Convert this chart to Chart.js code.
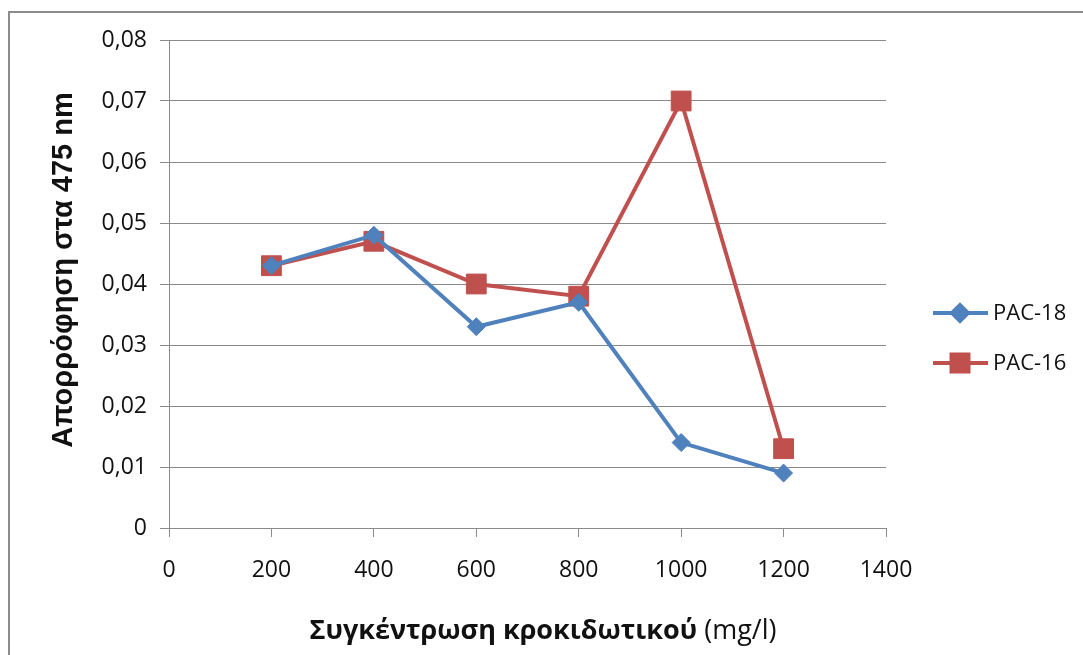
<!DOCTYPE html>
<html>
<head>
<meta charset="utf-8">
<script src="https://cdn.jsdelivr.net/npm/chart.js@4/dist/chart.umd.min.js"></script>
<style>
  html, body { margin: 0; padding: 0; background: #fff; }
  canvas { display: block; }
</style>
</head>
<body>
<canvas id="c" width="1083" height="655"></canvas>
<script>
// Flocculant dose (mg/l) and absorbance at 475 nm
const doses = [200, 400, 600, 800, 1000, 1200];
const pac18 = [0.043, 0.048, 0.033, 0.037, 0.014, 0.009];
const pac16 = [0.043, 0.047, 0.040, 0.038, 0.070, 0.013];
const seriesNames = ['PAC-18', 'PAC-16'];
const xTicks = [0, 200, 400, 600, 800, 1000, 1200, 1400];
const yTicks = [0, 0.01, 0.02, 0.03, 0.04, 0.05, 0.06, 0.07, 0.08];
const xTitleBold = 'Συγκέντρωση κροκιδωτικού';
const xTitleUnit = ' (mg/l)';
const yTitle = 'Απορρόφηση στα 475 nm';

const BLUE = '#4F81BD';
const RED = '#C0504D';
const GRID = '#8a8a8a';
const TEXT = '#111';
const TICK_FONT = { family: '"Open Sans", sans-serif', size: 23 };

const toPoints = vals => doses.map((d, i) => ({ x: d, y: vals[i] }));

const styles = [
  { color: BLUE, pointStyle: 'rectRot', radius: 9, legendRadius: 8 },
  { color: RED, pointStyle: 'rect', radius: 14, legendRadius: 12 }
];

// Frame, titles and the right-hand legend
const decorations = {
  id: 'decorations',
  beforeDraw(chart) {
    const ctx = chart.ctx;
    ctx.save();
    ctx.fillStyle = '#fff';
    ctx.fillRect(0, 0, chart.width, chart.height);
    ctx.strokeStyle = '#8c8c8c';
    ctx.lineWidth = 2;
    ctx.strokeRect(9, 12, chart.width + 20, chart.height + 20);
    ctx.restore();
  },
  afterDraw(chart) {
    const ctx = chart.ctx;
    ctx.save();
    ctx.fillStyle = TEXT;

    // x-axis title: bold name plus regular unit
    const boldFont = 'bold 27px "Open Sans", sans-serif';
    const regFont = '27px "Open Sans", sans-serif';
    ctx.font = boldFont;
    const wb = ctx.measureText(xTitleBold).width;
    ctx.font = regFont;
    const wu = ctx.measureText(xTitleUnit).width;
    const cx = 543;
    let x0 = cx - (wb + wu) / 2;
    ctx.textBaseline = 'alphabetic';
    ctx.textAlign = 'left';
    ctx.font = boldFont;
    ctx.fillText(xTitleBold, x0, 639);
    ctx.font = regFont;
    ctx.fillText(xTitleUnit, x0 + wb, 639);

    // y-axis title, rotated
    ctx.save();
    ctx.translate(64, 270);
    ctx.rotate(-Math.PI / 2);
    ctx.font = 'bold 29px "Liberation Sans", Arial, sans-serif';
    ctx.textAlign = 'center';
    ctx.textBaseline = 'middle';
    ctx.fillText(yTitle, 0, 0);
    ctx.restore();

    // legend
    const rows = [313, 363];
    chart.data.datasets.forEach((ds, i) => {
      const y = rows[i];
      const st = styles[i];
      ctx.strokeStyle = st.color;
      ctx.lineWidth = 4;
      ctx.beginPath();
      ctx.moveTo(933, y);
      ctx.lineTo(988, y);
      ctx.stroke();
      ctx.fillStyle = st.color;
      ctx.strokeStyle = st.color;
      Chart.helpers.drawPoint(ctx, {
        pointStyle: st.pointStyle, radius: st.legendRadius, rotation: 0, borderWidth: 1
      }, 960, y);
      ctx.fillStyle = TEXT;
      ctx.font = '22px "Open Sans", sans-serif';
      ctx.textAlign = 'left';
      ctx.textBaseline = 'middle';
      ctx.fillText(ds.label, 993, y + 1);
    });
    ctx.restore();
  }
};

new Chart(document.getElementById('c'), {
  type: 'scatter',
  data: {
    datasets: [pac18, pac16].map((vals, i) => ({
      label: seriesNames[i],
      data: toPoints(vals),
      showLine: true,
      borderColor: styles[i].color,
      backgroundColor: styles[i].color,
      borderWidth: 4,
      pointStyle: styles[i].pointStyle,
      pointRadius: styles[i].radius,
      pointHoverRadius: styles[i].radius,
      pointBorderWidth: 1,
      pointBorderColor: styles[i].color,
      pointBackgroundColor: styles[i].color,
      tension: 0
    }))
  },
  options: {
    responsive: false,
    animation: false,
    events: [],
    layout: { padding: { top: 40, right: 197, left: 0, bottom: 0 } },
    plugins: { legend: { display: false }, tooltip: { enabled: false } },
    scales: {
      x: {
        type: 'linear',
        min: xTicks[0],
        max: xTicks[xTicks.length - 1],
        afterBuildTicks: s => { s.ticks = xTicks.map(v => ({ value: v })); },
        afterFit: s => { s.height = 127; },
        grid: { drawOnChartArea: false, drawTicks: true, tickLength: 9, color: GRID, lineWidth: 1 },
        border: { display: true, color: GRID, width: 1 },
        ticks: { color: TEXT, font: TICK_FONT, padding: 20, maxRotation: 0, autoSkip: false,
                 callback: v => String(v) }
      },
      y: {
        type: 'linear',
        min: yTicks[0],
        max: yTicks[yTicks.length - 1],
        afterBuildTicks: s => { s.ticks = yTicks.map(v => ({ value: v })); },
        afterFit: s => { s.width = 169; },
        grid: { drawOnChartArea: true, drawTicks: true, tickLength: 9, color: GRID, lineWidth: 1 },
        border: { display: true, color: GRID, width: 1 },
        ticks: { color: TEXT, font: TICK_FONT, padding: 13, autoSkip: false,
                 callback: v => v === 0 ? '0' : v.toFixed(2).replace('.', ',') }
      }
    }
  },
  plugins: [decorations]
});
</script>
</body>
</html>
